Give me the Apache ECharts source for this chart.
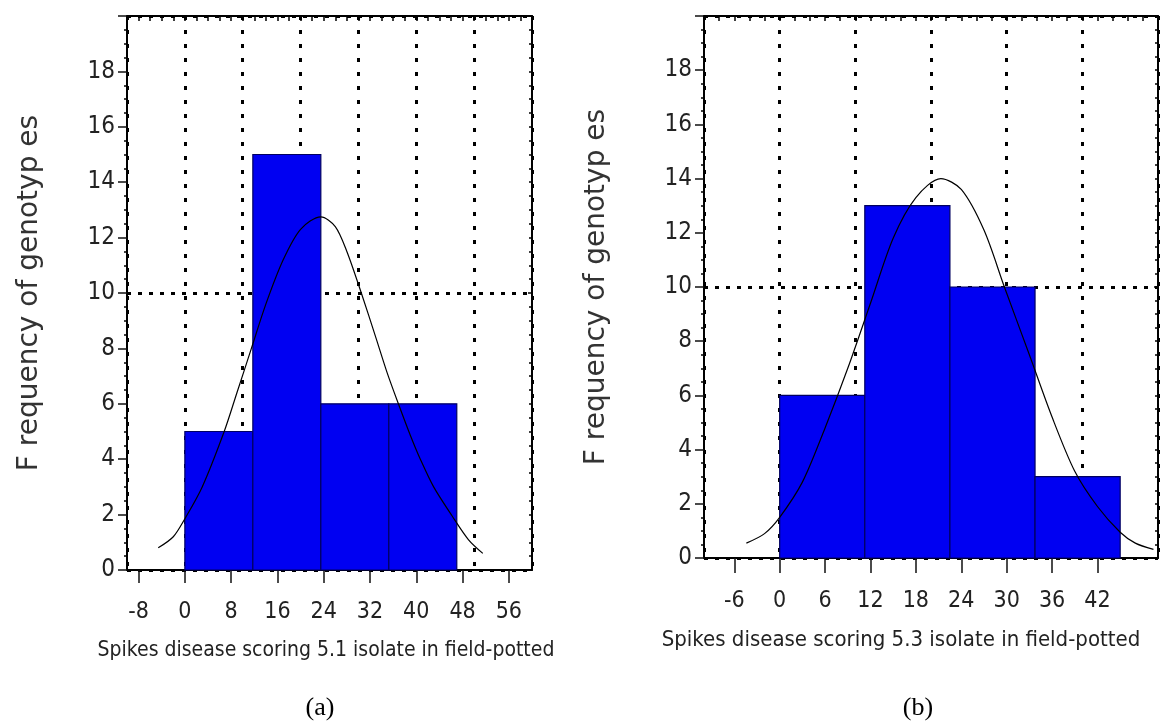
<!DOCTYPE html>
<html>
<head>
<meta charset="utf-8">
<script src="https://cdn.jsdelivr.net/npm/echarts@6/dist/echarts.min.js"></script>
<style>
html,body{margin:0;padding:0;background:#fff;}
#chart{width:1162px;height:724px;}
</style>
</head>
<body>
<div id="chart"></div>
<script>
// ---- data (a) ----
const binEdgesA = [0, 11.75, 23.5, 35.25, 47];
const freqA = [5, 15, 6, 6];
const curveXA = [-4.6, -2, 0, 3, 6.8, 9, 11.5, 14, 17, 20, 23.5, 26, 28, 30.5, 33, 35, 37, 39, 40.7, 43, 46.2, 49, 51.5];
const curveYA = [0.8, 1.2, 1.85, 3.0, 5.0, 6.4, 8.0, 9.6, 11.2, 12.3, 12.75, 12.4, 11.5, 10.0, 8.4, 7.1, 5.95, 4.85, 4.0, 3.0, 1.95, 1.1, 0.6];
const xTicksA = [-8, 0, 8, 16, 24, 32, 40, 48, 56];
// ---- data (b) ----
const binEdgesB = [0, 11.25, 22.5, 33.75, 45];
const freqB = [6, 13, 10, 3];
const curveXB = [-4.4, -2, 0, 3, 6, 9, 12, 15, 18, 21.3, 24, 27, 29.7, 33, 36, 39, 42, 45, 47, 49.4];
const curveYB = [0.55, 0.9, 1.5, 2.8, 4.8, 7.0, 9.4, 11.8, 13.3, 14.0, 13.6, 12.1, 10.0, 7.5, 5.2, 3.2, 1.9, 0.95, 0.55, 0.32];
const xTicksB = [-6, 0, 6, 12, 18, 24, 30, 36, 42];
// ---- shared ----
const yTitle = 'F requency of genotyp es';
const xTitleA = 'Spikes disease scoring 5.1 isolate in field-potted';
const xTitleB = 'Spikes disease scoring 5.3 isolate in field-potted';
const panelA = '(a)';
const panelB = '(b)';

const NARROW = "'Liberation Sans Narrow','Arial Narrow','DejaVu Sans Condensed',sans-serif";

function histData(edges, freq) {
  return freq.map((f, i) => [edges[i], edges[i + 1], f]);
}
function zip(xs, ys) { return xs.map((x, i) => [x, ys[i]]); }

function renderBin(params, api) {
  const p0 = api.coord([api.value(0), api.value(2)]);
  const p1 = api.coord([api.value(1), 0]);
  return {
    type: 'rect',
    shape: { x: p0[0], y: p0[1], width: p1[0] - p0[0], height: p1[1] - p0[1] },
    style: { fill: '#0000f2', stroke: '#000060', lineWidth: 1.2 }
  };
}

function bottomX(grid, max, ticks, tickLen, margin) {
  return {
    gridIndex: grid, type: 'value', min: -10, max: max, position: 'bottom',
    axisLine: { show: true, onZero: false, lineStyle: { color: '#000', width: 2 } },
    axisTick: { show: true, customValues: ticks, length: tickLen, lineStyle: { color: '#111', width: 1.5 } },
    axisLabel: { customValues: ticks, margin: margin, fontSize: 23, fontFamily: NARROW, color: '#222' },
    splitLine: { show: false }
  };
}
function topX(grid, max) {
  return {
    gridIndex: grid, type: 'value', min: -10, max: max, interval: 10, position: 'top',
    axisLine: { show: true, onZero: false, lineStyle: { color: '#000', width: 2 } },
    axisTick: { show: true, inside: true, length: 5, lineStyle: { color: '#000', width: 1.5 } },
    minorTick: { show: true, splitNumber: 5, length: 5, lineStyle: { color: '#000', width: 1.5 } },
    axisLabel: { show: false },
    splitLine: { show: true, lineStyle: { color: '#000', type: [4, 10], width: 3 } }
  };
}
function leftY(grid, gap) {
  return {
    gridIndex: grid, type: 'value', min: 0, max: 20, interval: 2, position: 'left',
    axisLine: { show: true, onZero: false, lineStyle: { color: '#000', width: 2 } },
    axisTick: { show: true, length: 9, lineStyle: { color: '#111', width: 1.5 } },
    minorTick: { show: true, splitNumber: 4, length: 3, lineStyle: { color: '#000', width: 1.5 } },
    axisLabel: { margin: 12, fontSize: 24, fontFamily: NARROW, color: '#222',
      formatter: v => (v >= 20 ? '' : String(v)) },
    splitLine: { show: false },
    name: yTitle, nameLocation: 'middle', nameGap: gap,
    nameTextStyle: { fontFamily: 'DejaVu Sans', fontSize: 28, color: '#333' }
  };
}
function rightY(grid) {
  return {
    gridIndex: grid, type: 'value', min: 0, max: 20, interval: 10, position: 'right',
    axisLine: { show: true, onZero: false, lineStyle: { color: '#000', width: 2 } },
    axisTick: { show: true, inside: true, length: 4, lineStyle: { color: '#000', width: 1.5 } },
    minorTick: { show: true, splitNumber: 20, length: 3, lineStyle: { color: '#000', width: 1.5 } },
    axisLabel: { show: false },
    splitLine: { show: true, lineStyle: { color: '#000', type: [4, 7], width: 3 } }
  };
}

const chart = echarts.init(document.getElementById('chart'), null, { renderer: 'canvas' });
chart.setOption({
  animation: false,
  backgroundColor: '#fff',
  grid: [
    { left: 127, top: 16, width: 405, height: 554 },
    { left: 704, top: 16, width: 454, height: 542 }
  ],
  xAxis: [
    bottomX(0, 60, xTicksA, 13, 31),
    topX(0, 60),
    bottomX(1, 50, xTicksB, 15, 32),
    topX(1, 50)
  ],
  yAxis: [
    leftY(0, 83),
    rightY(0),
    leftY(1, 93),
    rightY(1)
  ],
  series: [
    { type: 'custom', xAxisIndex: 0, yAxisIndex: 0, data: histData(binEdgesA, freqA),
      renderItem: renderBin, encode: { x: [0, 1], y: 2 }, z: 3, silent: true },
    { type: 'line', xAxisIndex: 0, yAxisIndex: 0, data: zip(curveXA, curveYA),
      smooth: 0.3, symbol: 'none', lineStyle: { color: '#000', width: 1.2 }, z: 4, silent: true },
    { type: 'custom', xAxisIndex: 2, yAxisIndex: 2, data: histData(binEdgesB, freqB),
      renderItem: renderBin, encode: { x: [0, 1], y: 2 }, z: 3, silent: true },
    { type: 'line', xAxisIndex: 2, yAxisIndex: 2, data: zip(curveXB, curveYB),
      smooth: 0.3, symbol: 'none', lineStyle: { color: '#000', width: 1.2 }, z: 4, silent: true }
  ],
  graphic: [
    { type: 'text', x: 326, y: 651, style: { text: xTitleA, fontFamily: NARROW, fontSize: 21,
      fill: '#222', align: 'center', verticalAlign: 'middle' } },
    { type: 'text', x: 901, y: 640, style: { text: xTitleB, fontFamily: NARROW, fontSize: 22,
      fill: '#222', align: 'center', verticalAlign: 'middle' } },
    { type: 'text', x: 320, y: 708, style: { text: panelA, fontFamily: "'Liberation Serif','Times New Roman',serif",
      fontSize: 26, fill: '#000', align: 'center', verticalAlign: 'middle' } },
    { type: 'text', x: 918, y: 708, style: { text: panelB, fontFamily: "'Liberation Serif','Times New Roman',serif",
      fontSize: 26, fill: '#000', align: 'center', verticalAlign: 'middle' } }
  ]
});
</script>
</body>
</html>
